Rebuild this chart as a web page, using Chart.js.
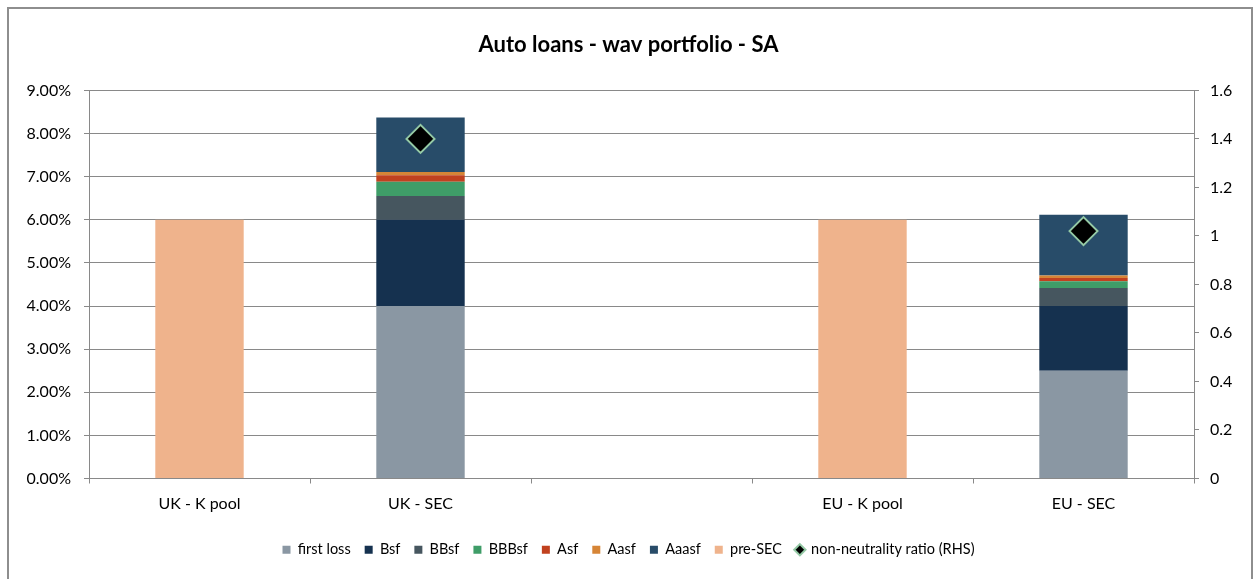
<!DOCTYPE html>
<html>
<head>
<meta charset="utf-8">
<script src="https://cdn.jsdelivr.net/npm/chart.js@4"></script>
<style>
  html, body { margin: 0; padding: 0; background: #fff; overflow: hidden; }
  #frame { position: absolute; left: 7px; top: 7px; width: 1242px; height: 600px; border: 2px solid #8e8e8e; }
  #wrap { position: absolute; left: 0; top: 0; width: 1257px; height: 579px; }
</style>
</head>
<body>
<div id="frame"></div>
<div id="wrap"><canvas id="c"></canvas></div>
<script>
// categories (third slot is an empty spacer category in the original)
const categories = ['UK - K pool', 'UK - SEC', '', 'EU - K pool', 'EU - SEC'];

// stacked tranche thicknesses, in %
const firstLoss = [null, 4.00, null, null, 2.50];
const bsf       = [null, 2.00, null, null, 1.50];
const bbsf      = [null, 0.55, null, null, 0.42];
const bbbsf     = [null, 0.33, null, null, 0.155];
const asf       = [null, 0.155, null, null, 0.077];
const aasf      = [null, 0.075, null, null, 0.054];
const aaasf     = [null, 1.26, null, null, 1.41];
const preSec    = [6.00, null, null, 6.00, null];

// right hand side ratio
const nonNeutrality = [null, 1.40, null, null, 1.02];

const leftTicks = { min: 0, max: 9, step: 1 };
const rightTicks = { min: 0, max: 1.6, step: 0.2 };

const gridGrey = '#898989';
Chart.defaults.font.family = 'Lato, "Open Sans", sans-serif';
Chart.defaults.color = '#000';

function bar(label, data, color) {
    return { type: 'bar', label: label, data: data, backgroundColor: color, borderWidth: 0,
             pointStyle: 'rect', stack: 's', order: 1, yAxisID: 'y' };
}

new Chart(document.getElementById('c'), {
    data: {
        labels: categories,
        datasets: [
            bar('first loss', firstLoss, '#8a97a3'),
            bar('Bsf', bsf, '#15314f'),
            bar('BBsf', bbsf, '#46565f'),
            bar('BBBsf', bbbsf, '#3f9d68'),
            bar('Asf', asf, '#c1411f'),
            bar('Aasf', aasf, '#d68536'),
            bar('Aaasf', aaasf, '#284c69'),
            bar('pre-SEC', preSec, '#efb38c'),
            {
                type: 'line',
                label: 'non-neutrality ratio (RHS)',
                data: nonNeutrality,
                yAxisID: 'y1',
                showLine: false,
                order: 0,
                pointStyle: 'rectRot',
                pointRadius: 14,
                pointHoverRadius: 14,
                backgroundColor: '#000',
                borderColor: '#94c9a5',
                borderWidth: 2,
                pointBorderWidth: 2
            }
        ]
    },
    options: {
        responsive: true,
        maintainAspectRatio: false,
        animation: false,
        layout: { padding: { top: 0, bottom: 12, left: 0, right: 0 } },
        datasets: { bar: { categoryPercentage: 1, barPercentage: 0.4 } },
        scales: {
            x: {
                stacked: true,
                offset: true,
                grid: { offset: true, drawOnChartArea: false, color: gridGrey, tickLength: 5 },
                border: { color: gridGrey },
                ticks: { font: { size: 16 }, padding: 11, maxRotation: 0 },
                afterFit: s => { s.height = 50; }
            },
            y: {
                stacked: true,
                position: 'left',
                min: leftTicks.min, max: leftTicks.max,
                grid: { color: gridGrey, tickLength: 5 },
                border: { color: gridGrey },
                ticks: { stepSize: leftTicks.step, font: { size: 16 }, padding: 13,
                         callback: v => v.toFixed(2) + '%' },
                afterFit: s => { s.width = 89; }
            },
            y1: {
                position: 'right',
                min: rightTicks.min, max: rightTicks.max,
                grid: { drawOnChartArea: false, color: gridGrey, tickLength: 5 },
                border: { color: gridGrey },
                ticks: { stepSize: rightTicks.step, font: { size: 16 }, padding: 11,
                         callback: v => String(Number(v.toFixed(1))) },
                afterFit: s => { s.width = 63; }
            }
        },
        plugins: {
            title: {
                display: true,
                text: 'Auto loans - wav portfolio - SA',
                font: { size: 22, weight: 'bold' },
                color: '#000',
                padding: { top: 32, bottom: 32 }
            },
            legend: {
                position: 'bottom',
                labels: {
                    usePointStyle: true,
                    boxWidth: 8, boxHeight: 8,
                    padding: 14,
                    font: { size: 14.5 },
                    sort: (a, b) => a.datasetIndex - b.datasetIndex
                }
            },
            tooltip: { enabled: false }
        }
    }
});
</script>
</body>
</html>
